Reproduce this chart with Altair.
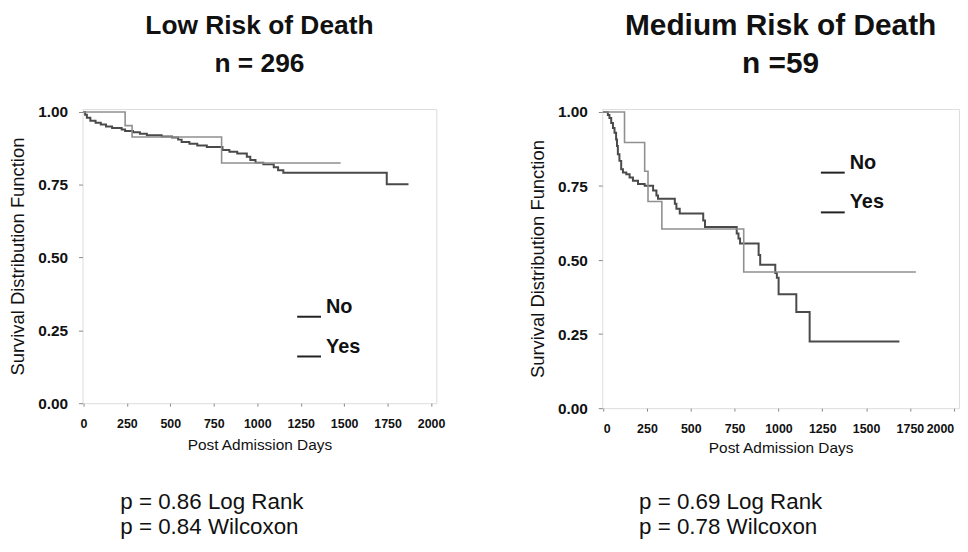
import altair as alt
import pandas as pd

FONT = "Liberation Sans"

# ---------------- data ----------------
x_ticks = [0, 250, 500, 750, 1000, 1250, 1500, 1750, 2000]
y_ticks = [0.0, 0.25, 0.5, 0.75, 1.0]

low_no_days = [0, 10, 20, 40, 70, 100, 130, 165, 220, 240, 285, 325, 365, 450, 510, 545,
               565, 610, 655, 710, 800, 840, 885, 940, 960, 990, 1035, 1095, 1120, 1150,
               1745, 1870]
low_no_surv = [1.0, 0.99, 0.98, 0.97, 0.963, 0.957, 0.95, 0.945, 0.94, 0.935, 0.93, 0.925,
               0.92, 0.916, 0.912, 0.905, 0.897, 0.891, 0.885, 0.88, 0.869, 0.863, 0.857,
               0.846, 0.835, 0.826, 0.82, 0.81, 0.80, 0.791, 0.752, 0.752]
low_yes_days = [0, 240, 280, 795, 1480]
low_yes_surv = [1.0, 0.953, 0.914, 0.825, 0.825]

med_no_days = [0, 27, 36, 46, 56, 65, 74, 79, 84, 93, 103, 113, 132, 151, 170, 199, 237,
               285, 304, 313, 409, 418, 437, 571, 581, 762, 772, 781, 887, 896, 982, 991,
               1001, 1102, 1178, 1690]
med_no_surv = [1.0, 0.99, 0.98, 0.963, 0.946, 0.93, 0.907, 0.885, 0.857, 0.835, 0.807,
               0.796, 0.79, 0.779, 0.768, 0.757, 0.751, 0.735, 0.718, 0.707, 0.69, 0.673,
               0.657, 0.634, 0.612, 0.59, 0.573, 0.556, 0.517, 0.484, 0.456, 0.44, 0.385,
               0.325, 0.225, 0.225]
med_yes_days = [0, 122, 237, 256, 335, 802, 1784]
med_yes_surv = [1.0, 0.897, 0.80, 0.698, 0.605, 0.46, 0.46]

groups = ["No", "Yes"]
low_title = ["Low Risk of Death", "n = 296"]
med_title = ["Medium Risk of Death", "n =59"]
low_pvals = ["p = 0.86 Log Rank", "p = 0.84 Wilcoxon"]
med_pvals = ["p = 0.69 Log Rank", "p = 0.78 Wilcoxon"]


def one(text):
    return pd.DataFrame({"t": [text]})


def panel(no_d, no_s, yes_d, yes_s, title, pvals, w, h, leg, pv, xtitle_pad, tfs, flush):
    df = pd.concat([
        pd.DataFrame({"day": no_d, "surv": no_s, "group": groups[0]}),
        pd.DataFrame({"day": yes_d, "surv": yes_s, "group": groups[1]}),
    ])
    x = alt.X("day:Q",
              scale=alt.Scale(domain=[-5, 2030], nice=False, zero=False),
              axis=alt.Axis(values=x_ticks, title="Post Admission Days", format="d",
                            labelFontSize=12.5, labelFontWeight="bold", labelFont=FONT,
                            labelColor="#111", tickSize=3, tickColor="#888",
                            labelPadding=11, titleFontSize=15.5, titleFont=FONT,
                            titleFontWeight="normal", titleColor="#111",
                            titlePadding=xtitle_pad, domain=False, grid=False,
                            labelFlush=flush, labelOverlap=False))
    y = alt.Y("surv:Q",
              scale=alt.Scale(domain=[0, 1.01], nice=False),
              axis=alt.Axis(values=y_ticks, format=".2f",
                            title="Survival Distribution Function",
                            labelFontSize=15.5, labelFontWeight="bold", labelFont=FONT,
                            labelColor="#111", tickSize=4, tickColor="#888",
                            labelPadding=11, titleFontSize=18.5, titleFont=FONT,
                            titleFontWeight="normal", titleColor="#111",
                            titlePadding=10, domain=False, grid=False,
                            labelFlush=False))
    lines = alt.Chart(df).mark_line(interpolate="step-after").encode(
        x=x, y=y,
        color=alt.Color("group:N", scale=alt.Scale(domain=groups, range=["#4a4a4a", "#909090"]),
                        legend=None),
        strokeWidth=alt.StrokeWidth("group:N", scale=alt.Scale(domain=groups, range=[2.0, 1.6]),
                                    legend=None),
    )
    layers = [lines]
    # two-line bold heading above the panel
    for i, t in enumerate(title):
        layers.append(alt.Chart(one(t)).mark_text(
            font=FONT, fontSize=tfs, fontWeight="bold", align="center", baseline="middle",
            color="#111").encode(text="t:N", x=alt.value(w / 2), y=alt.value(-84 + 39 * i)))
    # legend (text + underscore line)
    lx, ly_no, ly_yes = leg
    for lab, ty in ((groups[0], ly_no), (groups[1], ly_yes)):
        layers.append(alt.Chart(one(lab)).mark_text(
            font=FONT, fontSize=20, fontWeight="bold", align="left", baseline="middle",
            color="#111").encode(text="t:N", x=alt.value(lx + 29), y=alt.value(ty)))
        layers.append(alt.Chart(one(lab)).mark_rule(color="#222", strokeWidth=2).encode(
            x=alt.value(lx), x2=alt.value(lx + 24), y=alt.value(ty + 10)))
    # p-values below
    px, py = pv
    for i, t in enumerate(pvals):
        layers.append(alt.Chart(one(t)).mark_text(
            font=FONT, fontSize=22.5, align="left", baseline="middle", color="#111").encode(
            text="t:N", x=alt.value(px), y=alt.value(py + 26 * i)))
    return alt.layer(*layers).properties(width=w, height=h)


left = panel(low_no_days, low_no_surv, low_yes_days, low_yes_surv, low_title, low_pvals,
             356, 296, (216, 199, 239), (38, 395), 8, 26.5, False)
right = panel(med_no_days, med_no_surv, med_yes_days, med_yes_surv, med_title, med_pvals,
              359, 301, (220, 54, 94), (37, 395), 6, 30, 10)

chart = alt.hconcat(left, right, spacing=82).properties(
    padding={"left": 0, "top": 0, "right": 0, "bottom": 0}
).configure_view(stroke="#999999", strokeWidth=1.6).configure(background="white")

chart.save("out.html", embed_options={"renderer": "svg", "actions": False})
